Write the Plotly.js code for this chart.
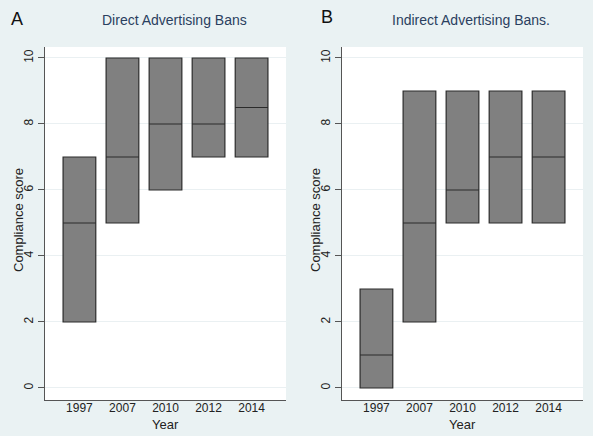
<!DOCTYPE html>
<html>
<head>
<meta charset="utf-8">
<script src="https://cdn.plot.ly/plotly-3.0.1.min.js"></script>
<style>
html,body{margin:0;padding:0;background:#ffffff;}
#chart{position:absolute;left:0;top:0;width:593px;height:436px;}
</style>
</head>
<body>
<div id="chart"></div>
<script>
const years = ['1997', '2007', '2010', '2012', '2014'];
const directLow = [2, 5, 6, 7, 7];
const directMedian = [5, 7, 8, 8, 8.5];
const directHigh = [7, 10, 10, 10, 10];
const indirectLow = [0, 2, 5, 5, 5];
const indirectMedian = [1, 5, 6, 7, 7];
const indirectHigh = [3, 9, 9, 9, 9];
const yTicks = [0, 2, 4, 6, 8, 10];
const panelTitles = ['Direct Advertising Bans', 'Indirect Advertising Bans.'];
const panelLetters = ['A', 'B'];

const W = 593, H = 436;
const px = v => v / W;
const py = v => 1 - v / H;
const FONT = 'Liberation Sans, Arial, sans-serif';

function boxTrace(low, med, high, xa, ya) {
  return {
    type: 'box', x: years, q1: low, median: med, q3: high,
    lowerfence: low, upperfence: high,
    xaxis: xa, yaxis: ya,
    width: 0.76, whiskerwidth: 0,
    fillcolor: '#808080',
    line: {color: '#2b2b2b', width: 1.2},
    boxpoints: false, hoverinfo: 'skip', showlegend: false
  };
}

const data = [
  boxTrace(directLow, directMedian, directHigh, 'x', 'y'),
  boxTrace(indirectLow, indirectMedian, indirectHigh, 'x2', 'y2')
];

function xAxis(domain, anchor) {
  return {
    domain: domain, anchor: anchor, type: 'category',
    range: [-0.8, 4.8], showgrid: false, zeroline: false,
    showline: true, linecolor: '#555555', linewidth: 1,
    ticks: '', ticklabelstandoff: -3,
    tickfont: {family: FONT, size: 12, color: '#222222'},
    fixedrange: true
  };
}
function yAxis(anchor) {
  return {
    domain: [py(400), py(47)], anchor: anchor,
    range: [-0.364, 10.333], tickvals: yTicks, ticktext: yTicks.map(String),
    tickangle: -90, ticks: 'outside', ticklen: 6, tickcolor: '#555555',
    showgrid: true, gridcolor: '#eaf0f2', gridwidth: 1, zeroline: false,
    showline: true, linecolor: '#555555', linewidth: 1,
    tickfont: {family: FONT, size: 12, color: '#222222'},
    fixedrange: true
  };
}

const ann = [];
function addText(text, x, y, size, color, angle) {
  ann.push({text: text, xref: 'paper', yref: 'paper', x: px(x), y: py(y),
    xanchor: 'center', yanchor: 'middle', showarrow: false,
    textangle: angle || 0, font: {family: FONT, size: size, color: color}});
}
addText(panelLetters[0], 17, 19, 18, '#111111');
addText(panelTitles[0], 174, 20, 14, '#2a3f5f');
addText('Compliance score', 18, 220, 13, '#222222', -90);
addText('Year', 165, 424, 13, '#222222');
addText(panelLetters[1], 327, 17, 18, '#111111');
addText(panelTitles[1], 471, 20, 14, '#2a3f5f');
addText('Compliance score', 315, 220, 13, '#222222', -90);
addText('Year', 462, 424, 13, '#222222');

const layout = {
  width: W, height: H,
  margin: {l: 0, r: 0, t: 0, b: 0},
  paper_bgcolor: '#eaf2f3', plot_bgcolor: '#ffffff',
  xaxis: xAxis([px(45), px(286)], 'y'),
  yaxis: yAxis('x'),
  xaxis2: xAxis([px(342), px(583)], 'y2'),
  yaxis2: yAxis('x2'),
  annotations: ann,
  showlegend: false
};

Plotly.newPlot('chart', data, layout, {displayModeBar: false, staticPlot: true});
</script>
</body>
</html>
